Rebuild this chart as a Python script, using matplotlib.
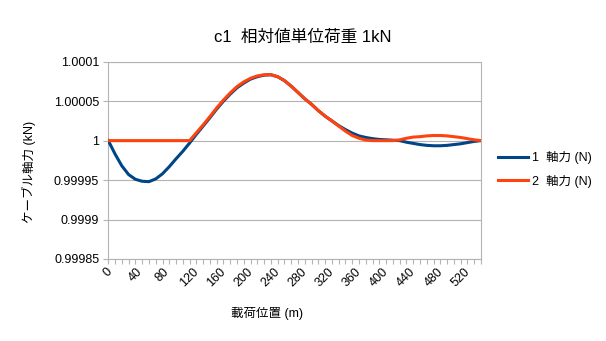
import numpy as np
import matplotlib
matplotlib.use('Agg')
import matplotlib.pyplot as plt
from matplotlib.ticker import FixedLocator, FixedFormatter, MultipleLocator

plt.rcParams['font.family'] = ['Liberation Sans', 'Noto Sans CJK JP']

# ── data: load position (m) and axial force deviation (x1e-5 kN) ──────────────
positions = list(range(0, 560, 10))
axial_1 = [0.0, -1.7, -3.2, -4.3, -4.9, -5.15, -5.2, -4.85, -4.2, -3.3,
           -2.3, -1.35, -0.3, 0.8, 1.85, 2.9, 4.0, 5.0, 5.9, 6.7,
           7.3, 7.8, 8.1, 8.3, 8.35, 8.1, 7.6, 6.9, 6.1, 5.3,
           4.6, 3.8, 3.1, 2.5, 1.9, 1.4, 0.95, 0.6, 0.4, 0.25,
           0.15, 0.1, 0.05, 0.0, -0.2, -0.35, -0.5, -0.6, -0.65, -0.65,
           -0.6, -0.5, -0.4, -0.25, -0.1, 0.0]
axial_2 = [0.0, 0.0, 0.0, 0.0, 0.0, 0.0, 0.0, 0.0, 0.0, 0.0,
           0.0, 0.0, 0.0, 1.0, 2.0, 3.05, 4.15, 5.15, 6.05, 6.85,
           7.45, 7.9, 8.2, 8.35, 8.35, 8.1, 7.6, 6.9, 6.1, 5.3,
           4.6, 3.8, 3.1, 2.5, 1.85, 1.2, 0.65, 0.3, 0.08, 0.0,
           0.0, 0.0, 0.0, 0.1, 0.3, 0.45, 0.5, 0.6, 0.65, 0.65,
           0.6, 0.5, 0.4, 0.25, 0.1, 0.0]
series_labels = ["1  軸力 (N)", "2  軸力 (N)"]
y_ticks = [0.99985, 0.9999, 0.99995, 1.0, 1.00005, 1.0001]
y_tick_labels = ["0.99985", "0.9999", "0.99995", "1", "1.00005", "1.0001"]
x_ticks = list(range(0, 560, 40))

x = np.array(positions)
y1 = 1 + np.array(axial_1) * 1e-5
y2 = 1 + np.array(axial_2) * 1e-5

# ── plot ───────────────────────────────────────────────────────────────────────
fig = plt.figure(figsize=(6.06, 3.41), dpi=100)
ax = fig.add_axes([0.1787, 0.2405, 0.615, 0.5785])

grey = "#b3b3b3"
ax.plot(x, y1, color="#004586", lw=2.2, label=series_labels[0], zorder=3)
ax.plot(x, y2, color="#ff420e", lw=2.2, label=series_labels[1], zorder=4)

ax.set_xlim(0, 550)
ax.set_ylim(0.99985, 1.0001)
ax.yaxis.set_major_locator(FixedLocator(y_ticks))
ax.yaxis.set_major_formatter(FixedFormatter(y_tick_labels))
ax.set_xticks(x_ticks)
ax.set_xticklabels([str(t) for t in x_ticks], rotation=45, ha="center", va="top")
ax.xaxis.set_minor_locator(MultipleLocator(10))

ax.tick_params(axis="both", which="both", direction="out", length=3.6,
               width=0.8, color=grey, labelsize=9, labelcolor="black")
ax.tick_params(axis="x", which="major", pad=1)
ax.tick_params(axis="y", pad=3)

ax.yaxis.grid(True, color=grey, lw=0.8, zorder=0)
for side in ["left", "right", "bottom", "top"]:
    ax.spines[side].set_color(grey)
    ax.spines[side].set_linewidth(0.8)

ax.set_xlabel("載荷位置 (m)", fontsize=9)
ax.set_ylabel("ケーブル軸力 (kN)", fontsize=9)
ax.xaxis.set_label_coords(0.425, -0.243)
ax.yaxis.set_label_coords(-0.194, 0.44)

fig.suptitle("c1  相対値単位荷重 1kN", x=0.5, y=0.891, va="center", fontsize=12)

fig.legend(loc="center left", bbox_to_anchor=(498 / 606, 0.503), frameon=False,
           fontsize=9, handlelength=2.4, handletextpad=0.35, labelspacing=0.85,
           borderpad=0, borderaxespad=0)

fig.savefig("out.png", dpi=100)
